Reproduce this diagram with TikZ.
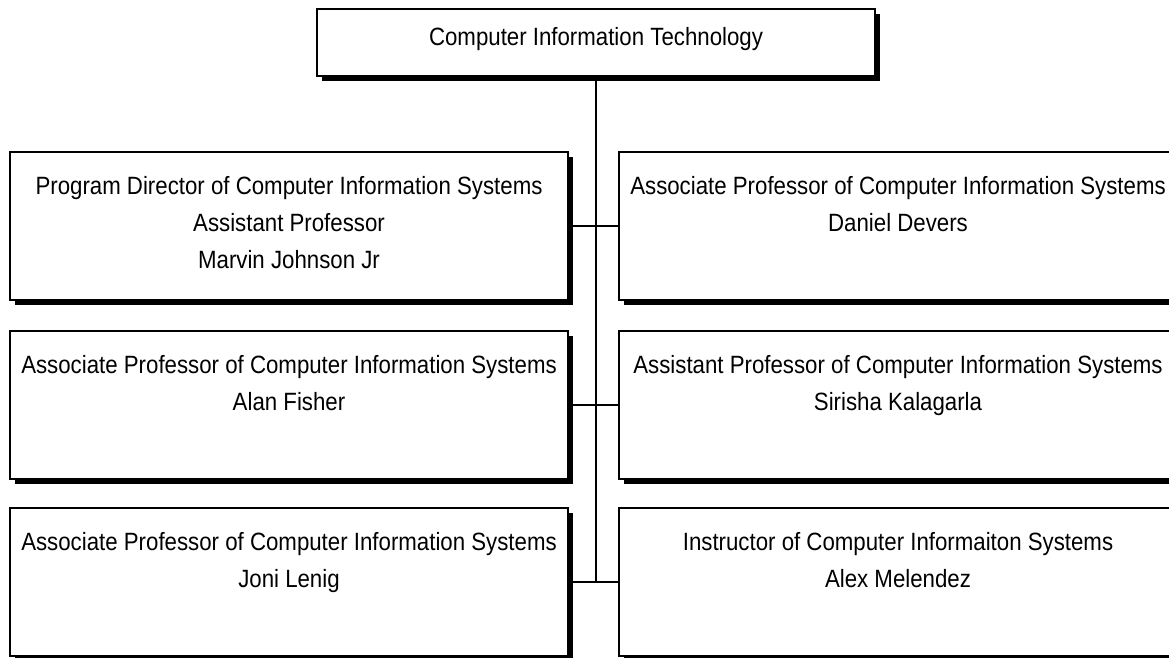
\documentclass[tikz,border=0pt]{standalone}
\usepackage{fontspec}
\setmainfont{Liberation Sans}[FakeStretch=0.89]
\usetikzlibrary{shadows}

\newcommand{\unitfont}{\fontsize{25}{37}\selectfont}
\newcommand{\unitlines}[1]{\begin{tabular}[t]{@{}c@{}}#1\end{tabular}}

\begin{document}
\begin{tikzpicture}[x=1pt,y=-1pt,
    unitbox/.style={draw, line width=1.5pt, fill=white, inner sep=0pt,
      minimum width=558pt, text height=43pt, text depth=105pt,
      font=\unitfont,
      drop shadow={fill=black, opacity=1, shadow xshift=5pt, shadow yshift=-5pt}},
    link/.style={line width=1.5pt}]
      \useasboundingbox (0,0) rectangle (1169,657);
      \clip (0,0) rectangle (1169,657);

      % top unit
      \node[unitbox, text height=37pt, text depth=30pt, anchor=north] (cit) at (596,8)
        {Computer Information Technology};

      % left column
      \node[unitbox, anchor=north] (lp1) at (289,151)
        {\unitlines{Program Director of Computer Information Systems\\Assistant Professor\\Marvin Johnson Jr}};
      \node[unitbox, anchor=north] (lp2) at (289,330)
        {\unitlines{Associate Professor of Computer Information Systems\\Alan Fisher}};
      \node[unitbox, anchor=north] (lp3) at (289,507)
        {\unitlines{Associate Professor of Computer Information Systems\\Joni Lenig}};

      % right column
      \node[unitbox, anchor=north] (rp1) at (898,151)
        {\unitlines{Associate Professor of Computer Information Systems\\Daniel Devers}};
      \node[unitbox, anchor=north] (rp2) at (898,330)
        {\unitlines{Assistant Professor of Computer Information Systems\\Sirisha Kalagarla}};
      \node[unitbox, anchor=north] (rp3) at (898,507)
        {\unitlines{Instructor of Computer Informaiton Systems\\Alex Melendez}};

      % connectors
      \draw[link] (cit.south) -- (cit.south |- lp3.east);
      \draw[link] (lp1.east) -- (rp1.west);
      \draw[link] (lp2.east) -- (rp2.west);
      \draw[link] (lp3.east) -- (rp3.west);
    \end{tikzpicture}
\end{document}
